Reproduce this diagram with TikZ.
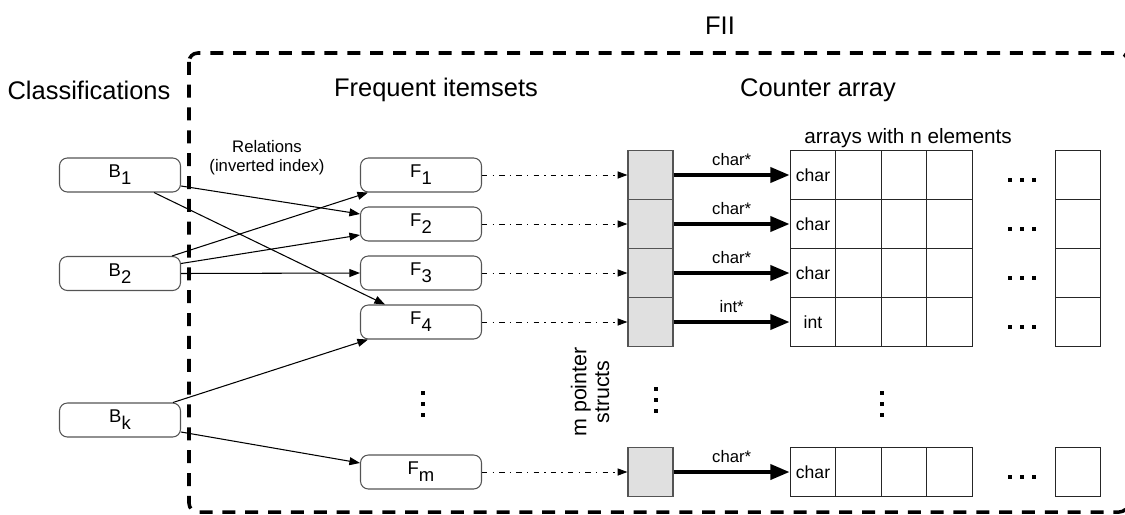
\documentclass[tikz,border=0pt]{standalone}
\usepackage{fontspec}
\setmainfont{Liberation Sans}
\usepackage{xcolor}
\usepackage{tikz}
\usetikzlibrary{arrows.meta, positioning, calc}
\definecolor{cellgray}{rgb}{0.88, 0.88, 0.88}
\definecolor{boxgray}{rgb}{0.33, 0.33, 0.33}
\newcommand{\lowidx}[1]{\raisebox{-4pt}{#1}}

\begin{document}
\begin{tikzpicture}[>=Stealth, thick,
    setbox/.style={draw=boxgray, line width=0.6pt, rounded corners=4.5pt,
        minimum width=2.42cm, minimum height=0.68cm, inner sep=0pt,
        font=\fontsize{10.5}{12}\selectfont},
    ptrcell/.style={draw=boxgray, line width=0.7pt, fill=cellgray,
        minimum width=0.9cm, minimum height=0.98cm, inner sep=0pt},
    arrcell/.style={draw=black!85, line width=0.7pt,
        minimum width=0.91cm, minimum height=0.98cm, inner sep=0pt,
        font=\fontsize{10}{12}\selectfont},
    heading/.style={font=\fontsize{14.5}{17}\selectfont},
    smalltext/.style={font=\fontsize{9.5}{11}\selectfont},
    rel/.style={-{Triangle[length=6pt, width=4.5pt]}, line width=0.6pt},
    link/.style={-{Triangle[length=5.5pt, width=4pt]}, line width=0.5pt,
        dash pattern=on 3pt off 3pt on 0.8pt off 3pt},
    ptr/.style={-{Triangle[length=11pt, width=8.5pt]}, line width=2.3pt},
    fiiframe/.style={line width=2pt, dash pattern=on 7.4pt off 5.6pt, rounded corners=5pt},
]
    \useasboundingbox (0,0) rectangle (22.5,-10.28);

    % FII frame
    \draw[fiiframe] (3.78,-1.06) rectangle (22.56,-10.24);
    \node[heading] (fii) at (14.4,-0.52) {FII};

    % Column titles
    \node[heading] (classtitle) at (1.78,-1.8) {Classifications};
    \node[heading] (freqtitle) at (8.72,-1.8) {Frequent itemsets};
    \node[heading] (countertitle) at (16.36,-1.8) {Counter array};
    \node[font=\fontsize{11.8}{14}\selectfont] (arraytitle) at (18.16,-2.76) {arrays with n elements};
    \node[smalltext, align=center] (reltitle) at (5.34,-3.16) {Relations\\(inverted index)};

    % Classifications
    \node[setbox] (b1) at (2.4,-3.5) {B\lowidx{1}};
    \node[setbox] (b2) at (2.4,-5.47) {B\lowidx{2}};
    \node[setbox] (bk) at (2.4,-8.4) {B\lowidx{k}};

    % Itemsets, pointer structs and counter arrays
    \foreach \i/\y/\t in {1/-3.5/char, 2/-4.48/char, 3/-5.46/char, 4/-6.44/int, m/-9.44/char} {
        \node[setbox] (f\i) at (8.42,\y) {F\lowidx{\i}};
        \node[ptrcell] (p\i) at (13.01,\y) {};
        \node[arrcell] (a\i1) at (16.26,\y) {\t};
        \foreach \j in {2,3,4}
            \node[arrcell] (a\i\j) at (16.26+0.91*\j-0.91,\y) {};
        \node[arrcell] (a\i n) at (21.56,\y) {};
        \draw[link] (f\i.east) -- (p\i.west);
        \draw[ptr] (p\i.east) -- node[above=1pt, smalltext] {\t*} (a\i1.west);
        \foreach \d in {-0.24,0,0.24}
            \fill[xshift=\d cm] (20.4,\y-0.14) rectangle ++(0.08,0.08);
    }

    % Relations
    \draw[rel] ([yshift=-0.22cm]b1.east) -- ([yshift=0.2cm]f2.west);
    \draw[rel] ([xshift=0.68cm]b1.south) -- ([xshift=-0.72cm]f4.north);
    \draw[rel] ([xshift=1.04cm]b2.north) -- ([xshift=-1.06cm]f1.south);
    \draw[rel] ([yshift=0.2cm]b2.east) -- ([yshift=-0.22cm]f2.west);
    \draw[rel] (b2.east) -- (f3.west);
    \draw[rel] ([xshift=1.06cm]bk.north) -- ([xshift=-1.06cm]f4.south);
    \draw[rel] ([yshift=-0.24cm]bk.east) -- ([yshift=0.18cm]fm.west);

    % Vertical dots
    \foreach \x/\y in {8.42/-8.08, 13.08/-8.0, 17.6/-8.08} {
        \foreach \d in {-0.22,0,0.22}
            \fill[yshift=\d cm] (\x,\y-0.04) rectangle ++(0.08,0.08);
    }
    \node[font=\fontsize{12.2}{13}\selectfont, rotate=90, align=center] (mptr) at (11.8,-7.84) {m pointer\\structs};
\end{tikzpicture}
\end{document}
